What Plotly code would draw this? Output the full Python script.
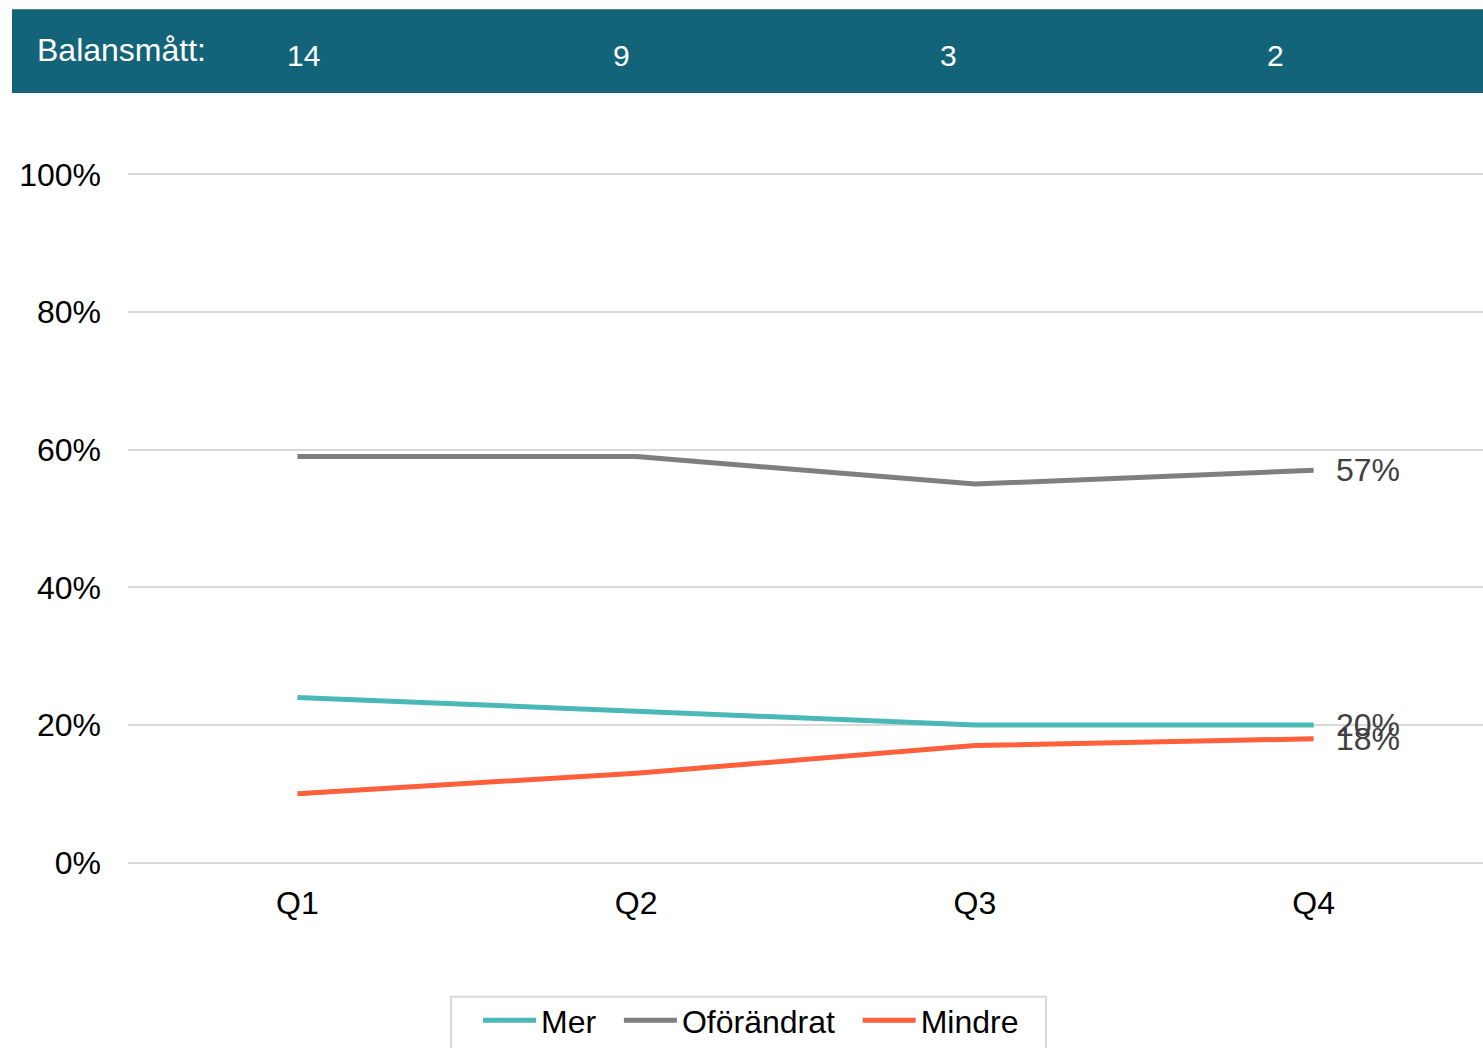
import plotly.graph_objects as go

quarters = ["Q1", "Q2", "Q3", "Q4"]
mer = [0.24, 0.22, 0.20, 0.20]
oforandrat = [0.59, 0.59, 0.55, 0.57]
mindre = [0.10, 0.13, 0.17, 0.18]
balans = [14, 9, 3, 2]
balans_label = "Balansmått:"

series = [
    ("Mer", mer, "#4BB8B8"),
    ("Oförändrat", oforandrat, "#7F7F7F"),
    ("Mindre", mindre, "#FF5F3B"),
]

FONT = "Liberation Sans, Arial, sans-serif"
PAD = "\u00a0\u00a0"

fig = go.Figure()
for name, vals, col in series:
    fig.add_trace(go.Scatter(
        x=quarters, y=vals, name=name + PAD, mode="lines",
        line=dict(color=col, width=5),
    ))

annotations = []
for name, vals, col in series:
    annotations.append(dict(
        x=quarters[-1], y=vals[-1], xref="x", yref="y",
        text=f"{round(vals[-1]*100)}%", showarrow=False,
        xanchor="left", yanchor="middle", xshift=20,
        font=dict(family=FONT, size=32, color="#404040"),
    ))

W, H = 1483, 1048
plot_l, plot_r = 128, 1483
plot_t, plot_b = 173, 865
plot_w = plot_r - plot_l
plot_h = plot_b - plot_t

def px(xpix):
    return (xpix - plot_l) / plot_w

def py(ypix):
    return (plot_b - ypix) / plot_h

shapes = [
    dict(type="rect", xref="paper", yref="paper",
         x0=px(12), x1=px(1483), y0=py(93), y1=py(9),
         fillcolor="#136478", line=dict(width=0), layer="below"),
    dict(type="rect", xref="paper", yref="paper",
         x0=px(451), x1=px(1046), y0=py(1070), y1=py(998),
         fillcolor="rgba(0,0,0,0)", line=dict(color="#D9D9D9", width=2)),
]
annotations.append(dict(
    x=px(35), y=py(50), xref="paper", yref="paper", text=balans_label,
    showarrow=False, xanchor="left", yanchor="middle",
    font=dict(family=FONT, size=32, color="white"),
))
banner_x = [303, 621, 948, 1275]
for bx, b in zip(banner_x, balans):
    annotations.append(dict(
        x=px(bx), y=py(55), xref="paper", yref="paper", text=str(b),
        showarrow=False, xanchor="center", yanchor="middle",
        font=dict(family=FONT, size=30, color="white"),
    ))

fig.update_layout(
    width=W, height=H,
    margin=dict(l=plot_l, r=W - plot_r, t=plot_t, b=H - plot_b),
    paper_bgcolor="white", plot_bgcolor="white",
    font=dict(family=FONT, size=32, color="black"),
    shapes=shapes, annotations=annotations,
    showlegend=True,
    legend=dict(
        orientation="h", xanchor="left", yanchor="middle",
        x=px(478), y=py(1022),
        borderwidth=0, bgcolor="rgba(0,0,0,0)",
        font=dict(family=FONT, size=32, color="black"),
        itemwidth=53,
    ),
    xaxis=dict(
        range=[-0.5, 3.5], showgrid=False, showline=False, zeroline=False,
        ticks="", ticklabelstandoff=17,
        tickfont=dict(family=FONT, size=32, color="black"),
    ),
    yaxis=dict(
        range=[-0.002, 1.002], tickvals=[0, 0.2, 0.4, 0.6, 0.8, 1.0],
        tickformat=".0%", showgrid=True, gridcolor="#D9D9D9", gridwidth=2,
        zeroline=False, showline=False, ticks="", ticklabelstandoff=26,
        tickfont=dict(family=FONT, size=32, color="black"),
    ),
)

fig.write_html(
    "out.html",
    config={"displayModeBar": False},
    post_script="document.body.style.margin='0';document.body.style.overflow='hidden';",
)
